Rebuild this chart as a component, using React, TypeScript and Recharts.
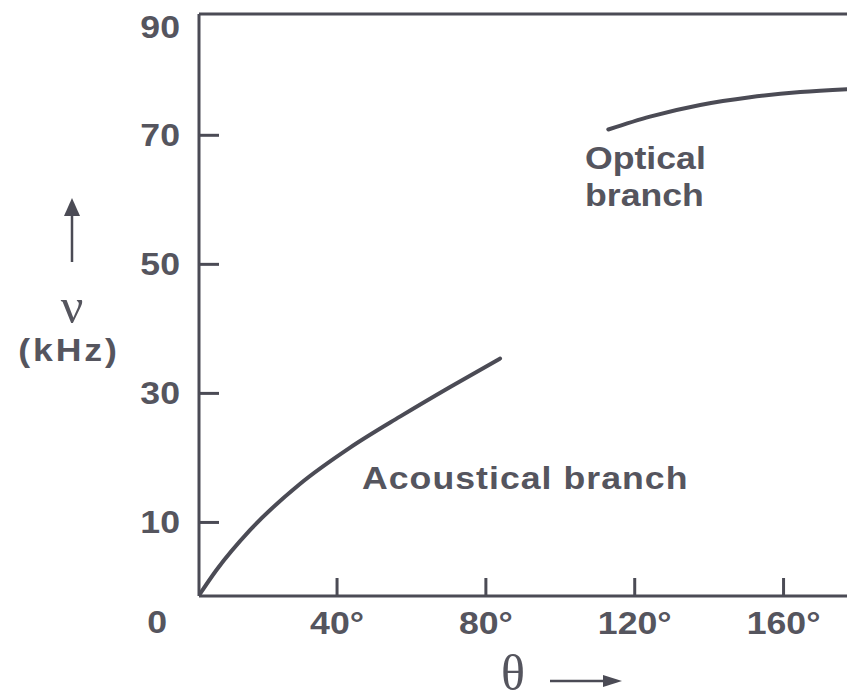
import React from "react";
import { LineChart, Line, XAxis, YAxis, ReferenceLine } from "recharts";

// Dispersion curve (theta in degrees, nu in kHz)
const acousticTheta = [2.9, 7.7, 16.6, 30.1, 43.5, 56.9, 70.4, 83.8];
const acousticNu = [-1.3, 2.7, 8.8, 16.0, 21.6, 26.4, 31.0, 35.4];

const opticalTheta = [112.9, 124.1, 137.6, 151.0, 164.5, 179.2];
const opticalNu = [70.9, 72.9, 74.7, 75.9, 76.7, 77.2];

const xTicks = [40, 80, 120, 160];
const yTicks = [10, 30, 50, 70];

const acoustic = acousticTheta.map((t, i) => ({ theta: t, nu: acousticNu[i] }));
const optical = opticalTheta.map((t, i) => ({ theta: t, nu: opticalNu[i] }));

const INK = "#4b4b55";
const TEXT = "#55555e";
const FONT = "'Liberation Sans', Arial, sans-serif";
const SX = 1.15;

const YTick = ({ x, y, payload }: any) => (
  <g>
    <line x1={x} y1={y} x2={x + 20} y2={y} stroke={INK} strokeWidth={3} />
    <text
      transform={`translate(${x - 19},${y}) scale(${SX},1)`}
      textAnchor="end"
      dominantBaseline="central"
      fill={TEXT}
      fontFamily={FONT}
      fontWeight="bold"
      fontSize={31}
    >
      {payload.value}
    </text>
  </g>
);

const XTick = ({ x, y, payload }: any) => (
  <g>
    <line x1={x} y1={y} x2={x} y2={y - 18} stroke={INK} strokeWidth={3} />
    <text
      transform={`translate(${x},${y + 27}) scale(${SX},1)`}
      textAnchor="middle"
      dominantBaseline="central"
      fill={TEXT}
      fontFamily={FONT}
      fontWeight="bold"
      fontSize={31}
    >
      {payload.value}°
    </text>
  </g>
);

const Txt = ({ x, y, anchor = "start", spacing = 0, children }: any) => (
  <text
    transform={`translate(${x},${y}) scale(${SX},1)`}
    textAnchor={anchor}
    dominantBaseline="central"
    fill={TEXT}
    fontFamily={FONT}
    fontWeight="bold"
    fontSize={31}
    letterSpacing={spacing}
  >
    {children}
  </text>
);

export default function App() {
  return (
    <LineChart width={847} height={692} margin={{ top: 6, right: 0, left: 0, bottom: 0 }}>
      <XAxis
        dataKey="theta"
        type="number"
        domain={[2.9, 179.2]}
        ticks={xTicks}
        interval={0}
        allowDataOverflow
        height={104}
        tickLine={false}
        tickSize={0}
        tickMargin={0}
        axisLine={{ stroke: INK, strokeWidth: 3 }}
        tick={<XTick />}
      />
      <YAxis
        type="number"
        domain={[-1.4, 88.8]}
        ticks={yTicks}
        interval={0}
        allowDataOverflow
        width={191}
        tickLine={false}
        tickSize={0}
        tickMargin={0}
        axisLine={{ stroke: INK, strokeWidth: 3 }}
        tick={<YTick />}
      />
      <ReferenceLine y={88.8} stroke={INK} strokeWidth={3} />
      <Line
        data={acoustic}
        dataKey="nu"
        type="monotone"
        stroke={INK}
        strokeWidth={4}
        strokeLinecap="round"
        dot={false}
        isAnimationActive={false}
      />
      <Line
        data={optical}
        dataKey="nu"
        type="monotone"
        stroke={INK}
        strokeWidth={4}
        strokeLinecap="round"
        dot={false}
        isAnimationActive={false}
      />

      <Txt x={172} y={19} anchor="end">90</Txt>
      <Txt x={159} y={614} anchor="end">0</Txt>
      <Txt x={577} y={150}>Optical</Txt>
      <Txt x={577} y={187}>branch</Txt>
      <Txt x={354} y={470} spacing={0.9}>Acoustical branch</Txt>
      <Txt x={61} y={342} anchor="middle" spacing={2.5}>(kHz)</Txt>

      {/* y axis title: arrow and nu */}
      <line x1={64} y1={254} x2={64} y2={205} stroke={INK} strokeWidth={2.5} />
      <polygon points="64,190 56,208 72,208" fill={INK} />
      <text
        x={64}
        y={298}
        textAnchor="middle"
        dominantBaseline="central"
        fill={TEXT}
        fontFamily="'Liberation Serif', serif"
        fontSize={50}
      >
        ν
      </text>

      {/* x axis title: theta and arrow */}
      <text
        x={505}
        y={665}
        textAnchor="middle"
        dominantBaseline="central"
        fill={TEXT}
        fontFamily="'Liberation Serif', serif"
        fontSize={50}
      >
        θ
      </text>
      <line x1={542} y1={673} x2={598} y2={673} stroke={INK} strokeWidth={2.5} />
      <polygon points="614,673 595,667 595,679" fill={INK} />
    </LineChart>
  );
}
